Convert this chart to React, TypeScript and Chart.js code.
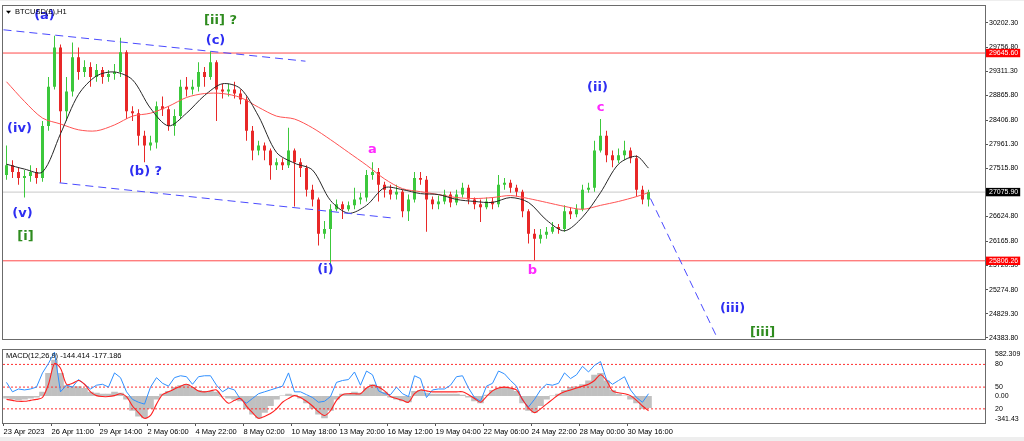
import { useEffect, useRef } from 'react';
import { Chart, registerables } from 'chart.js';

Chart.register(...registerables);

// ---------------- data (one candle = 8 hourly bars) ----------------
const opens = [
  27393, 27574, 27447, 27338, 27374, 27447, 27338, 28299, 29024, 29749,
  28571, 28933, 29568, 29296, 29387, 29205, 29332, 29205, 29260, 29296,
  29658, 28571, 28534, 28118, 27936, 27991, 28661, 28607, 28299, 28480,
  29024, 28970, 29024, 29296, 29205, 29477, 28970, 28933, 28970, 28897,
  28788, 28208, 27846, 27936, 27846, 27574, 27628, 27574, 27846, 27628,
  27519, 27121, 26940, 26305, 26396, 26758, 26849, 26758, 26831, 26940,
  26975, 27393, 27447, 27211, 27121, 27030, 27084, 26722, 26940, 27338,
  27302, 26940, 26849, 26903, 27030, 26885, 27030, 27157, 26940, 26849,
  26794, 26903, 26849, 27211, 27247, 27157, 27084, 26722, 26305, 26215,
  26287, 26341, 26432, 26396, 26722, 26668, 26758, 27121, 27157, 27846,
  28118, 27755, 27665, 27755, 27846, 27701, 27121, 26940,
];
const highs = [
  27936, 27665, 27519, 27483, 27574, 27519, 28390, 29205, 29967, 29804,
  29205, 29840, 29749, 29513, 29477, 29441, 29387, 29332, 29441, 29930,
  29695, 28661, 28607, 28208, 28118, 28752, 28843, 28661, 28607, 29151,
  29205, 29151, 29477, 29387, 29677, 29513, 29078, 29078, 29115, 28970,
  28843, 28299, 28027, 27991, 27882, 27701, 27701, 28263, 27882, 27701,
  27574, 27211, 26975, 26541, 26849, 26940, 26903, 26903, 27157, 27066,
  27483, 27628, 27519, 27265, 27211, 27211, 27121, 27030, 27447, 27447,
  27374, 26993, 27012, 27121, 27084, 27121, 27247, 27211, 26975, 26940,
  26975, 26975, 27393, 27338, 27302, 27211, 27121, 26758, 26396, 26396,
  26432, 26523, 26486, 26831, 26794, 26849, 27211, 27247, 28027, 28426,
  28208, 27846, 27882, 28027, 27900, 27755, 27193, 27121,
];
const lows = [
  27302, 27338, 27211, 26975, 27265, 27229, 27265, 28208, 28970, 27247,
  28390, 28843, 29151, 29205, 29024, 29115, 29078, 29115, 29151, 29205,
  28426, 28390, 27936, 27628, 27846, 27882, 28480, 28208, 28118, 28426,
  28843, 28879, 28933, 29024, 29151, 28390, 28806, 28843, 28806, 28698,
  28027, 27665, 27755, 27665, 27302, 27483, 27483, 27519, 26812, 27356,
  26993, 26812, 26087, 26215, 25761, 26722, 26577, 26722, 26758, 26849,
  26903, 27302, 26903, 26975, 26940, 26940, 26613, 26541, 26885, 27211,
  26341, 26758, 26758, 26849, 26794, 26831, 26975, 26849, 26758, 26523,
  26758, 26758, 26794, 27121, 27066, 26993, 26613, 26124, 25815, 26124,
  26215, 26305, 26305, 26341, 26577, 26613, 26722, 27066, 27084, 27809,
  27628, 27537, 27610, 27665, 27610, 26993, 26849, 26812,
];
const closes = [
  27574, 27447, 27338, 27374, 27447, 27338, 28299, 29024, 29749, 28571,
  28933, 29568, 29296, 29387, 29205, 29332, 29205, 29260, 29296, 29658,
  28571, 28534, 28118, 27936, 27991, 28661, 28607, 28299, 28480, 29024,
  28970, 29024, 29296, 29205, 29477, 28970, 28933, 28970, 28897, 28788,
  28208, 27846, 27936, 27846, 27574, 27628, 27574, 27846, 27628, 27519,
  27121, 26940, 26305, 26396, 26758, 26849, 26758, 26831, 26940, 26975,
  27393, 27447, 27211, 27121, 27030, 27084, 26722, 26940, 27338, 27302,
  26940, 26849, 26903, 27030, 26885, 27030, 27157, 26940, 26849, 26794,
  26903, 26849, 27211, 27247, 27157, 27084, 26722, 26305, 26215, 26287,
  26341, 26432, 26396, 26722, 26668, 26758, 27121, 27157, 27846, 28118,
  27755, 27665, 27755, 27846, 27701, 27121, 26940, 27076,
];

const maIndex = [
  0, 3, 6, 9, 12, 15, 18, 21, 24, 27, 30, 33, 36, 39, 42, 45, 48, 51, 54,
  57, 60, 63, 66, 69, 72, 75, 78, 81, 84, 87, 90, 93, 96, 99, 102, 105, 107,
];
const maFast = [
  27592, 27501, 27447, 28154, 28879, 29223, 29296, 29151, 28625, 28299,
  28534, 28861, 29078, 28988, 28480, 27809, 27610, 27483, 26921, 26685,
  26831, 27157, 27121, 27048, 27030, 26940, 26903, 26885, 26975, 26885,
  26559, 26360, 26613, 27066, 27592, 27737, 27519,
];
const maSlow = [
  29115, 28752, 28444, 28335, 28227, 28208, 28317, 28480, 28534, 28661,
  28824, 28897, 28897, 28824, 28643, 28480, 28426, 28263, 28045, 27810,
  27574, 27320, 27139, 27084, 27030, 26975, 26957, 26975, 27012, 26957,
  26885, 26812, 26758, 26831, 26903, 26993, 27066,
];

const macdHist = [
  -30, -42, -54, -42, -30, -18, 54, 294, 462, 294,
  138, 126, 126, 102, 54, 42, 30, 30, 54, 42,
  -42, -186, -258, -282, -162, -42, 30, 66, 114, 138,
  150, 114, 78, 66, 66, 54, -6, -30, -42, -66,
  -162, -234, -282, -210, -126, -42, 6, 30, 18, -30,
  -90, -162, -234, -282, -186, -42, 30, 30, 54, 42,
  102, 150, 126, 54, -18, -42, -66, -78, 66, 78,
  42, 30, 30, 30, 30, 30, 18, -18, -66, -90,
  18, 78, 102, 114, 102, 66, -90, -186, -210, -126,
  -42, 6, 30, 78, 114, 126, 150, 198, 270, 294,
  198, 78, 30, 6, -42, -90, -162, -150,
];
const macdSignal = [
  -42, -54, -66, -66, -54, -42, -18, 150, 414, 354,
  150, 162, 198, 150, 54, 6, -6, -6, 6, 30,
  -6, -126, -210, -282, -246, -102, 18, 54, 90, 126,
  150, 114, 66, 54, 66, 78, -18, -90, -54, -30,
  -126, -210, -282, -258, -222, -162, -78, -30, 6, -18,
  -66, -126, -198, -246, -186, -54, 18, 30, 30, 30,
  102, 138, 114, 66, -6, -30, -54, -78, 30, 78,
  66, 54, 54, 54, 54, 54, 54, 18, -30, -78,
  -6, 66, 102, 114, 102, 78, -42, -150, -210, -162,
  -102, -42, 18, 54, 78, 102, 126, 150, 198, 270,
  198, 66, 42, 30, 6, -54, -126, -186,
];
const macdOsc = [
  174, 54, 90, 78, 90, 114, 294, 414, 558, 54,
  138, 114, 210, 150, 90, 138, 150, 114, 294, 234,
  54, -42, -78, -102, 114, 234, 162, 126, 234, 258,
  246, 150, 246, 258, 258, 138, 54, 102, 78, -42,
  -90, -30, 30, 54, 78, 102, 126, 294, 54, 54,
  18, -18, -78, -66, -6, 174, 198, 210, 306, 138,
  318, 270, 66, 30, 18, 114, 30, -6, 258, 222,
  -18, 78, 90, 90, 138, 246, 258, 102, -18, -66,
  126, 162, 318, 282, 198, 126, -54, -138, -42, 78,
  150, 138, 162, 294, 222, 270, 378, 306, 390, 438,
  210, 150, 198, 246, 78, -18, -78, 30,
];

const timeLabels = [
  '23 Apr 2023', '26 Apr 11:00', '29 Apr 14:00', '2 May 06:00', '4 May 22:00',
  '8 May 02:00', '10 May 18:00', '13 May 20:00', '16 May 12:00', '19 May 04:00',
  '22 May 06:00', '24 May 22:00', '28 May 00:00', '30 May 16:00',
];
const priceTickValues = [
  30202.3, 29756.8, 29311.3, 28865.8, 28406.8, 27961.3, 27515.8,
  26624.8, 26165.8, 25720.3, 25274.8, 24829.3, 24383.8,
];
const keyLevels = [29645.6, 25806.26];
const lastPrice = 27075.9;
const macdTickValues = [534, 402, 114, 0, -162, -294];
const macdTickLabels = ['582.309', '80', '50', '0.00', '20', '-341.43'];
const macdLevels = [402, 114, -162];

const upperChannelX = [-0.5, 49.83];
const upperChannelY = [30075, 29495];
const lowerChannelX = [8.83, 64.5];
const lowerChannelY = [27247, 26595];
const projectionX = [107.33, 119];
const projectionY = [26957, 24256];

// ---------------- styling ----------------
const X_MIN = -0.5833;
const X_MAX = 163.083;
const UP = '#3CC83C';
const DOWN = '#E82828';
const WAVE_BLUE = '#2E2EF2';
const WAVE_GREEN = '#2E8B1E';
const WAVE_MAG = '#FF2AFF';
const AXIS_FONT = 'Liberation Sans';

const waveLabels = [
  { text: '(a)', x: 6.33, y: 30329, color: WAVE_BLUE },
  { text: '[ii] ?', x: 35.67, y: 30239, color: WAVE_GREEN },
  { text: '(c)', x: 34.83, y: 29876, color: WAVE_BLUE },
  { text: '(iv)', x: 2.17, y: 28244, color: WAVE_BLUE },
  { text: '(b) ?', x: 23.17, y: 27447, color: WAVE_BLUE },
  { text: '(v)', x: 2.67, y: 26685, color: WAVE_BLUE },
  { text: '[i]', x: 3.17, y: 26250, color: WAVE_GREEN },
  { text: 'a', x: 61.0, y: 27864, color: WAVE_MAG },
  { text: '(i)', x: 53.17, y: 25652, color: WAVE_BLUE },
  { text: 'b', x: 87.67, y: 25634, color: WAVE_MAG },
  { text: '(ii)', x: 98.5, y: 29006, color: WAVE_BLUE },
  { text: 'c', x: 99.0, y: 28643, color: WAVE_MAG },
  { text: '(iii)', x: 121.0, y: 24927, color: WAVE_BLUE },
  { text: '[iii]', x: 126.0, y: 24473, color: WAVE_GREEN },
];

const framePlugin = {
  id: 'frame',
  afterDraw(chart: any) {
    const { ctx, chartArea: a } = chart;
    ctx.save();
    ctx.strokeStyle = '#6B6B6B';
    ctx.lineWidth = 1;
    ctx.strokeRect(
      Math.round(a.left) - 0.5,
      Math.round(a.top) - 0.5,
      Math.round(a.right - a.left) + 1,
      Math.round(a.bottom - a.top) + 1
    );
    ctx.restore();
  },
};

const wavePlugin = {
  id: 'waves',
  afterDatasetsDraw(chart: any) {
    const { ctx, chartArea: a, scales } = chart;
    ctx.save();
    ctx.beginPath();
    ctx.rect(a.left, a.top, a.right - a.left, a.bottom - a.top);
    ctx.clip();
    ctx.textAlign = 'center';
    ctx.textBaseline = 'middle';
    ctx.font = 'bold 13px "DejaVu Sans"';
    for (const w of waveLabels) {
      ctx.fillStyle = w.color;
      ctx.fillText(w.text, scales.x.getPixelForValue(w.x), scales.y.getPixelForValue(w.y));
    }
    // title
    ctx.textAlign = 'left';
    ctx.fillStyle = '#000';
    ctx.font = `7.5px "${AXIS_FONT}"`;
    ctx.fillText('BTCUSD(£),H1', a.left + 12, a.top + 6);
    ctx.beginPath();
    ctx.moveTo(a.left + 3, a.top + 4.5);
    ctx.lineTo(a.left + 8, a.top + 4.5);
    ctx.lineTo(a.left + 5.5, a.top + 7.5);
    ctx.closePath();
    ctx.fill();
    ctx.restore();
  },
};

const macdTitlePlugin = {
  id: 'macdTitle',
  afterDatasetsDraw(chart: any) {
    const { ctx, chartArea: a } = chart;
    ctx.save();
    ctx.fillStyle = '#000';
    ctx.font = `7.5px "${AXIS_FONT}"`;
    ctx.textBaseline = 'middle';
    ctx.fillText('MACD(12,26,9) -144.414 -177.186', a.left + 3, a.top + 6);
    ctx.restore();
  },
};

const isSpecial = (v: number) => v === lastPrice || keyLevels.includes(v);

function hLine(y: number) {
  return [
    { x: X_MIN, y },
    { x: X_MAX, y },
  ];
}
function segment(xs: number[], ys: number[]) {
  return xs.map((x, i) => ({ x, y: ys[i] }));
}

export default function App() {
  const mainRef = useRef<HTMLCanvasElement>(null);
  const macdRef = useRef<HTMLCanvasElement>(null);

  useEffect(() => {
    const candleColors = closes.map((c, i) => (c >= opens[i] ? UP : DOWN));

    const main = new Chart(mainRef.current as HTMLCanvasElement, {
      type: 'bar',
      data: {
        datasets: [
          {
            type: 'line',
            data: segment(upperChannelX, upperChannelY),
            borderColor: '#4A4AFF',
            borderWidth: 1,
            borderDash: [8, 5],
            pointRadius: 0,
            order: 1,
          },
          {
            type: 'line',
            data: segment(lowerChannelX, lowerChannelY),
            borderColor: '#4A4AFF',
            borderWidth: 1,
            borderDash: [8, 5],
            pointRadius: 0,
            order: 1,
          },
          {
            type: 'line',
            data: segment(projectionX, projectionY),
            borderColor: '#4A4AFF',
            borderWidth: 1,
            borderDash: [8, 5],
            pointRadius: 0,
            order: 1,
          },
          {
            type: 'line',
            data: maIndex.map((k, j) => ({ x: k, y: maFast[j] })),
            borderColor: '#262626',
            borderWidth: 1,
            pointRadius: 0,
            tension: 0.3,
            order: 2,
          },
          {
            type: 'line',
            data: maIndex.map((k, j) => ({ x: k, y: maSlow[j] })),
            borderColor: '#FF5252',
            borderWidth: 1,
            pointRadius: 0,
            tension: 0.3,
            order: 3,
          },
          {
            type: 'bar',
            data: opens.map((o, i) => ({ x: i, y: [o, closes[i]] })),
            backgroundColor: candleColors,
            grouped: false,
            maxBarThickness: 3,
            minBarLength: 1,
            order: 5,
          },
          {
            type: 'bar',
            data: lows.map((l, i) => ({ x: i, y: [l, highs[i]] })),
            backgroundColor: candleColors,
            grouped: false,
            maxBarThickness: 1,
            order: 6,
          },
          {
            type: 'line',
            data: hLine(keyLevels[0]),
            borderColor: '#FF4A4A',
            borderWidth: 1,
            pointRadius: 0,
            order: 8,
          },
          {
            type: 'line',
            data: hLine(keyLevels[1]),
            borderColor: '#FF4A4A',
            borderWidth: 1,
            pointRadius: 0,
            order: 8,
          },
          {
            type: 'line',
            data: hLine(lastPrice),
            borderColor: '#C8C8C8',
            borderWidth: 1,
            pointRadius: 0,
            order: 9,
          },
        ] as any,
      },
      options: {
        animation: false,
        responsive: false,
        devicePixelRatio: 1,
        layout: { padding: { left: 3, right: 0, top: 2, bottom: 2 } },
        plugins: { legend: { display: false }, tooltip: { enabled: false } },
        scales: {
          x: { type: 'linear', min: X_MIN, max: X_MAX, display: false, offset: false },
          y: {
            type: 'linear',
            position: 'right',
            min: 24365,
            max: 30511,
            beginAtZero: false,
            afterFit: (s: any) => {
              s.width = 39;
            },
            afterBuildTicks: (s: any) => {
              s.ticks = [
                ...priceTickValues.map((v) => ({ value: v })),
                ...keyLevels.map((v) => ({ value: v })),
                { value: lastPrice },
              ];
            },
            ticks: {
              autoSkip: false,
              padding: 1,
              font: { family: AXIS_FONT, size: 7 },
              color: (c: any) => (isSpecial(c.tick?.value) ? '#FFFFFF' : '#000000'),
              showLabelBackdrop: (c: any) => isSpecial(c.tick?.value),
              backdropColor: (c: any) => (c.tick?.value === lastPrice ? '#000000' : '#FF0000'),
              backdropPadding: { top: 0, bottom: 0, left: 3, right: 2 },
              callback: (v: any) => Number(v).toFixed(2),
            },
            grid: {
              drawOnChartArea: false,
              tickLength: 3,
              color: (c: any) => (isSpecial(c.tick?.value) ? 'rgba(0,0,0,0)' : '#555555'),
            },
            border: { display: false },
          },
        },
      } as any,
      plugins: [framePlugin, wavePlugin],
    });

    const macd = new Chart(macdRef.current as HTMLCanvasElement, {
      type: 'bar',
      data: {
        datasets: [
          {
            type: 'line',
            data: macdSignal.map((v, i) => ({ x: i, y: v })),
            borderColor: '#FF2020',
            borderWidth: 1.1,
            pointRadius: 0,
            tension: 0.3,
            order: 1,
          },
          {
            type: 'line',
            data: macdOsc.map((v, i) => ({ x: i, y: v })),
            borderColor: '#2F8FFF',
            borderWidth: 1,
            pointRadius: 0,
            order: 2,
          },
          ...macdLevels.map((lv) => ({
            type: 'line',
            data: hLine(lv),
            borderColor: '#FF3030',
            borderWidth: 1,
            borderDash: [2, 2],
            pointRadius: 0,
            order: 3,
          })),
          {
            type: 'bar',
            data: macdHist.map((v, i) => ({ x: i, y: v })),
            backgroundColor: '#C0C0C0',
            grouped: false,
            barPercentage: 1.1,
            categoryPercentage: 1,
            order: 4,
          },
        ] as any,
      },
      options: {
        animation: false,
        responsive: false,
        devicePixelRatio: 1,
        layout: { padding: { left: 3, right: 0, top: 2, bottom: 0 } },
        plugins: { legend: { display: false }, tooltip: { enabled: false } },
        scales: {
          x: {
            type: 'linear',
            min: X_MIN,
            max: X_MAX,
            offset: false,
            position: 'bottom',
            afterFit: (s: any) => {
              s.height = 14;
            },
            afterBuildTicks: (s: any) => {
              s.ticks = timeLabels.map((_, n) => ({ value: n * 8 - 0.5 }));
            },
            ticks: {
              autoSkip: false,
              maxRotation: 0,
              minRotation: 0,
              align: 'start',
              padding: 1,
              color: '#000000',
              font: { family: AXIS_FONT, size: 7.5 },
              callback: (_v: any, i: number) => timeLabels[i],
            },
            grid: { drawOnChartArea: false, offset: false, tickLength: 3, color: '#555555' },
            border: { display: false },
          },
          y: {
            type: 'linear',
            position: 'right',
            min: -341.43,
            max: 582.309,
            beginAtZero: false,
            afterFit: (s: any) => {
              s.width = 39;
            },
            afterBuildTicks: (s: any) => {
              s.ticks = macdTickValues.map((v) => ({ value: v }));
            },
            ticks: {
              autoSkip: false,
              padding: 2,
              color: '#000000',
              font: { family: AXIS_FONT, size: 7 },
              callback: (_v: any, i: number) => macdTickLabels[i],
            },
            grid: { display: false },
            border: { display: false },
          },
        },
      } as any,
      plugins: [framePlugin, macdTitlePlugin],
    });

    return () => {
      main.destroy();
      macd.destroy();
    };
  }, []);

  return (
    <div
      style={{
        position: 'absolute',
        left: 0,
        top: 0,
        width: 1024,
        height: 441,
        background: '#EEEEEE',
        overflow: 'hidden',
      }}
    >
      <canvas
        ref={mainRef}
        width={1024}
        height={343}
        style={{ position: 'absolute', left: 0, top: 1, width: 1024, height: 343, background: '#FFFFFF' }}
      />
      <canvas
        ref={macdRef}
        width={1024}
        height={93}
        style={{ position: 'absolute', left: 0, top: 344, width: 1024, height: 93, background: '#FFFFFF' }}
      />
    </div>
  );
}
